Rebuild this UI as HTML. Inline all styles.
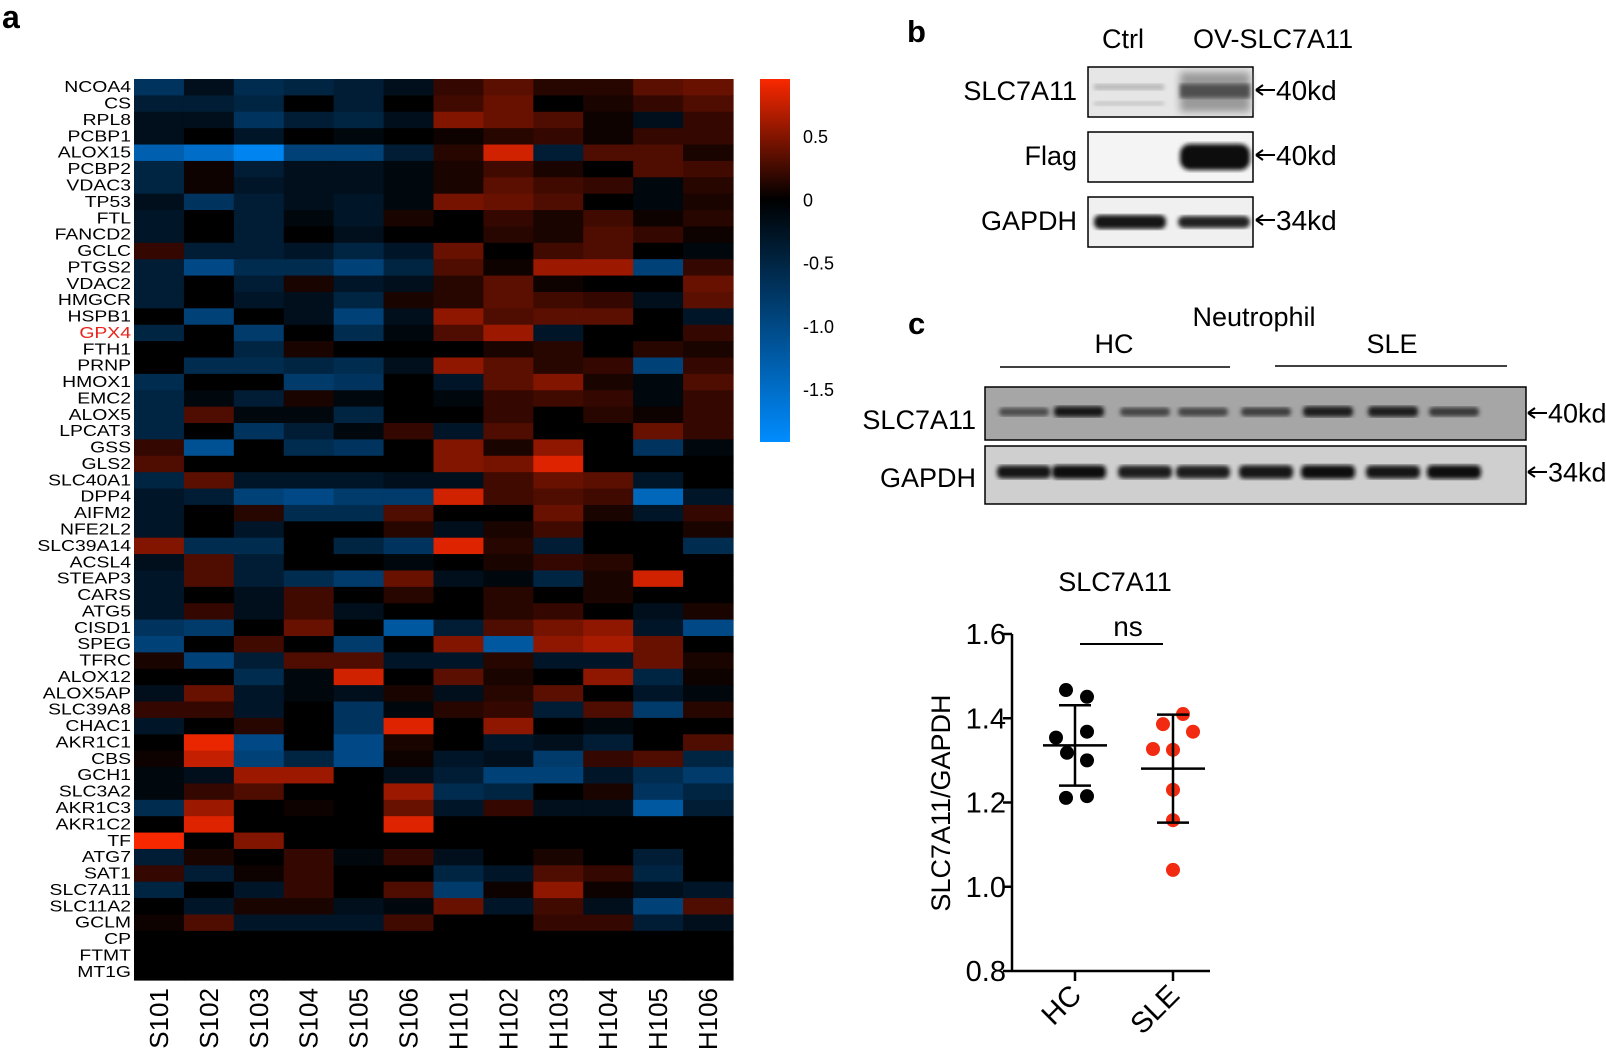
<!DOCTYPE html>
<html>
<head>
<meta charset="utf-8">
<style>
  html,body{margin:0;padding:0;background:#fff;}
  body{width:1606px;height:1056px;overflow:hidden;font-family:"Liberation Sans",Arial,sans-serif;}
  svg{position:absolute;left:0;top:0;}
  text{font-family:"Liberation Sans",Arial,sans-serif;}
</style>
</head>
<body>
<svg id="fig" width="1606" height="1056" viewBox="0 0 1606 1056" xmlns="http://www.w3.org/2000/svg">
  <defs>
    <linearGradient id="cbar" x1="0" y1="0" x2="0" y2="1">
      <stop offset="0" stop-color="rgb(250,40,0)"/>
      <stop offset="0.332" stop-color="rgb(0,0,0)"/>
      <stop offset="1" stop-color="rgb(0,140,255)"/>
    </linearGradient>
    <filter id="blur2"><feGaussianBlur stdDeviation="2.2"/></filter>
    <filter id="blur4"><feGaussianBlur stdDeviation="4"/></filter>
  </defs>

  <text x="2" y="28" font-size="32" font-weight="bold">a</text>
  <g id="heatmap"></g>
  <g id="genelabels"></g>
  <g id="samplelabels"></g>

  <rect x="760" y="79" width="30" height="363" fill="url(#cbar)"/>
  <g id="cbticks"></g>

  <!-- Panel b -->
  <text x="907" y="42" font-size="31" font-weight="bold">b</text>
  <text x="1123" y="48" font-size="27" text-anchor="middle">Ctrl</text>
  <text x="1193" y="48" font-size="27">OV-SLC7A11</text>
  <g>
    <rect x="1088" y="67" width="165" height="50" fill="#e6e6e6" stroke="#000" stroke-width="1.5"/>
    <rect x="1094" y="84" width="70" height="6" fill="#b8b8b8" filter="url(#blur2)"/>
    <rect x="1094" y="101" width="70" height="5" fill="#c8c8c8" filter="url(#blur2)"/>
    <rect x="1180" y="72" width="70" height="40" fill="#9a9a9a" filter="url(#blur4)"/>
    <rect x="1180" y="84" width="70" height="14" fill="#505050" filter="url(#blur2)"/>
  </g>
  <g>
    <rect x="1088" y="132" width="165" height="50" fill="#f4f4f4" stroke="#000" stroke-width="1.5"/>
    <rect x="1180" y="144" width="70" height="26" rx="10" fill="#111" filter="url(#blur2)"/>
  </g>
  <g>
    <rect x="1088" y="197" width="165" height="50" fill="#f0f0f0" stroke="#000" stroke-width="1.5"/>
    <rect x="1094" y="215" width="72" height="14" rx="6" fill="#151515" filter="url(#blur2)"/>
    <rect x="1178" y="216" width="72" height="12" rx="6" fill="#202020" filter="url(#blur2)"/>
  </g>
  <text x="1077" y="100" font-size="27" text-anchor="end">SLC7A11</text>
  <text x="1077" y="165" font-size="27" text-anchor="end">Flag</text>
  <text x="1077" y="230" font-size="27" text-anchor="end">GAPDH</text>
  <g id="arrows"></g>

  <!-- Panel c -->
  <text x="908" y="334" font-size="31" font-weight="bold">c</text>
  <text x="1254" y="326" font-size="27" text-anchor="middle">Neutrophil</text>
  <text x="1114" y="353" font-size="27" text-anchor="middle">HC</text>
  <text x="1392" y="353" font-size="27" text-anchor="middle">SLE</text>
  <line x1="1000" y1="367" x2="1230" y2="367" stroke="#000" stroke-width="1.5"/>
  <line x1="1275" y1="366" x2="1507" y2="366" stroke="#000" stroke-width="1.5"/>
  <g id="blotc">
    <rect x="985" y="387" width="541" height="53" fill="#a6a6a6" stroke="#000" stroke-width="1.5"/>
    <rect x="985" y="446" width="541" height="58" fill="#cfcfcf" stroke="#000" stroke-width="1.5"/>
  </g>
  <text x="976" y="429" font-size="27" text-anchor="end">SLC7A11</text>
  <text x="976" y="487" font-size="27" text-anchor="end">GAPDH</text>

  <!-- Scatter -->
  <g id="scatter"></g>
</svg>

<script>
// ---------- Heatmap data ----------
const genes = ["NCOA4","CS","RPL8","PCBP1","ALOX15","PCBP2","VDAC3","TP53","FTL","FANCD2","GCLC","PTGS2","VDAC2","HMGCR","HSPB1","GPX4","FTH1","PRNP","HMOX1","EMC2","ALOX5","LPCAT3","GSS","GLS2","SLC40A1","DPP4","AIFM2","NFE2L2","SLC39A14","ACSL4","STEAP3","CARS","ATG5","CISD1","SPEG","TFRC","ALOX12","ALOX5AP","SLC39A8","CHAC1","AKR1C1","CBS","GCH1","SLC3A2","AKR1C3","AKR1C2","TF","ATG7","SAT1","SLC7A11","SLC11A2","GCLM","CP","FTMT","MT1G"];
const samples = ["S101","S102","S103","S104","S105","S106","H101","H102","H103","H104","H105","H106"];
const colorbarTicks = [0.5, 0, -0.5, -1.0, -1.5];
const colorbarTickLabels = ["0.5","0","-0.5","-1.0","-1.5"];
const expression = [
[-0.7,-0.2,-0.6,-0.5,-0.4,-0.2,0.2,0.35,0.15,0.15,0.35,0.4],
[-0.4,-0.4,-0.5,0,-0.4,0,0.25,0.4,0,0.1,0.2,0.3],
[-0.2,-0.2,-0.7,-0.4,-0.5,-0.2,0.5,0.4,0.3,0.05,-0.2,0.2],
[-0.2,0,-0.3,0,-0.1,0,0.05,0.15,0.2,0.05,0.2,0.2],
[-1.3,-1.5,-1.8,-0.9,-0.9,-0.4,0.15,0.8,-0.4,0.3,0.3,0.1],
[-0.5,0.05,-0.4,-0.2,-0.2,-0.1,0.1,0.25,0.1,0,0.3,0.25],
[-0.5,0.05,-0.3,-0.2,-0.2,-0.1,0.1,0.35,0.25,0.2,-0.1,0.15],
[-0.2,-0.7,-0.4,-0.2,-0.3,-0.1,0.45,0.4,0.3,0,-0.1,0.1],
[-0.3,0,-0.4,-0.1,-0.3,0.1,0,0.2,0.1,0.25,0.05,0.15],
[-0.3,0,-0.4,0,-0.2,0,0,0.15,0.1,0.3,0.2,0.05],
[0.2,-0.4,-0.4,-0.3,-0.5,-0.3,0.4,0,0.25,0.3,0,-0.1],
[-0.4,-1.0,-0.6,-0.6,-0.9,-0.5,0.3,0.05,0.6,0.6,-0.9,0.2],
[-0.4,0,-0.4,0.1,-0.3,-0.2,0.15,0.35,0.05,0,0,0.4],
[-0.4,0,-0.3,-0.2,-0.5,0.1,0.15,0.35,0.25,0.2,-0.2,0.35],
[0,-0.9,0,-0.2,-0.9,-0.2,0.55,0.3,0.35,0.35,0,-0.3],
[-0.5,0,-0.8,0,-0.6,-0.1,0.3,0.6,-0.3,0,0,0.2],
[0,0,-0.5,0.1,0,0,0,0.1,0.15,0,0.15,0.1],
[0,-0.6,-0.6,-0.5,-0.6,-0.2,0.55,0.35,0.15,0.2,-0.9,0.2],
[-0.6,0,0,-0.8,-0.7,0,-0.3,0.35,0.5,0.1,-0.1,0.3],
[-0.5,-0.1,-0.4,0.1,-0.1,0,-0.1,0.2,0.25,0.2,-0.1,0.2],
[-0.5,0.3,-0.1,-0.1,-0.5,0,0,0.2,0,0.15,0.05,0.2],
[-0.5,0,-0.7,-0.4,-0.1,0.2,-0.3,0.3,0,0,0.4,0.2],
[0.2,-1.1,0,-0.6,-0.7,0,0.5,0.1,0.55,0,-0.7,-0.1],
[0.3,0,0,0,0,0,0.5,0.45,0.85,0,0,0],
[-0.5,0.35,-0.3,-0.3,-0.3,-0.2,-0.2,0.25,0.4,0.35,-0.3,0],
[-0.3,-0.4,-0.9,-1.0,-0.8,-0.8,0.8,0.25,0.3,0.25,-1.4,-0.3],
[-0.3,0,0.15,-0.6,-0.6,0.3,0,0,0.4,0.1,-0.3,0.2],
[-0.3,0,-0.3,0,0,0.15,-0.2,0.1,0.25,0,0,0.1],
[0.5,-0.6,-0.6,0,-0.5,-0.7,0.85,0.15,-0.4,0,0,-0.6],
[-0.2,0.3,-0.4,0,0,-0.1,0,0.1,0.2,0.15,0,0],
[-0.3,0.3,-0.4,-0.6,-0.8,0.4,-0.2,-0.1,-0.5,0.1,0.8,0],
[-0.3,0,-0.2,0.25,0,0.15,0,0.15,0,0.1,0,0],
[-0.3,0.2,-0.2,0.25,-0.2,0,0,0.15,0.2,0,-0.2,0.1],
[-0.7,-0.8,0,0.4,0,-1.2,-0.4,0.3,0.45,0.55,-0.3,-1.0],
[-0.9,0,0.25,0,-0.8,0,0.5,-1.2,0.55,0.65,0.4,0],
[0.1,-0.9,-0.4,0.3,0.3,-0.3,-0.3,0.15,-0.3,-0.3,0.4,0.1],
[0,0,-0.6,-0.1,0.8,0,0.35,0.1,0,0.55,-0.5,0.05],
[-0.2,0.4,-0.3,-0.1,-0.2,0.1,-0.2,0.15,0.35,0,-0.3,-0.1],
[0.2,0.2,-0.3,0,-0.7,-0.1,0.15,0.2,-0.4,0.3,-0.8,0.15],
[-0.3,0,0.15,0,-0.7,0.85,0,0.55,0,-0.1,0,0],
[0,0.9,-1.0,0,-1.0,0.1,0,-0.3,-0.2,-0.4,0,0.3],
[0.05,0.75,-0.9,-0.5,-1.0,0.05,-0.3,-0.2,-0.8,0.2,0.3,-0.5],
[-0.1,-0.2,0.6,0.6,0,-0.2,-0.4,-0.9,-0.9,-0.3,-0.6,-0.8],
[-0.1,0.2,0.3,0,0,0.6,-0.6,-0.5,0,0.1,-0.7,-0.5],
[-0.6,0.6,0,0.05,0,0.4,-0.3,0.2,-0.2,-0.2,-1.2,-0.4],
[0,0.85,0,0,0,0.85,0,0,0,0,0,0],
[0.95,0,0.5,0,0,0,0,0,0,0,0,0],
[-0.4,0.1,0,0.2,-0.1,0.2,-0.2,0,0.1,0,-0.4,0],
[0.2,-0.4,0.05,0.2,0,0,-0.5,-0.3,0.3,0.2,-0.5,0],
[-0.5,0,-0.3,0.2,0,0.3,-0.8,0.05,0.55,0.05,-0.2,-0.3],
[0,-0.3,0.1,0.1,-0.2,-0.1,0.4,-0.3,0.25,-0.2,-0.9,0.3],
[0.05,0.3,-0.3,-0.3,-0.3,0.25,0,0,0.2,0.2,-0.4,-0.2],
[0,0,0,0,0,0,0,0,0,0,0,0],
[0,0,0,0,0,0,0,0,0,0,0,0],
[0,0,0,0,0,0,0,0,0,0,0,0]
];

// ---------- Scatter data ----------
const scatterGroups = ["HC","SLE"];
const hcValues = [1.467,1.451,1.354,1.368,1.318,1.300,1.211,1.215];
const sleValues = [1.410,1.386,1.368,1.327,1.325,1.230,1.158,1.040];
const hcJitter = [-9,12,-19,12,-8,12,-9,12];
const sleJitter = [10,-10,20,-20,0,0,0,0];
const yTicks = [0.8,1.0,1.2,1.4,1.6];
const yTickLabels = ["0.8","1.0","1.2","1.4","1.6"];

// ---------- Blot band intensities (panel c) ----------
const slcBandStrength = [0.55,0.95,0.6,0.6,0.65,0.9,0.9,0.7];
const gapdhBandStrength = [0.85,0.95,0.8,0.8,0.9,0.95,0.85,0.95];

const NS = "http://www.w3.org/2000/svg";
function mk(tag, attrs, parent){
  const e = document.createElementNS(NS, tag);
  for (const k in attrs) e.setAttribute(k, attrs[k]);
  parent.appendChild(e);
  return e;
}

const hmX0 = 134, hmX1 = 733, hmY0 = 79, hmY1 = 980;
const colW = (hmX1 - hmX0) / samples.length;
const rowH = (hmY1 - hmY0) / genes.length;
const vMax = 0.96, vMin = -1.91;
function xCol(j){ return hmX0 + j * colW; }
function yRow(i){ return hmY0 + i * rowH; }
function color(v){
  if (v >= 0){ const t = Math.min(v / vMax, 1); return `rgb(${Math.round(250*t)},${Math.round(40*t)},0)`; }
  const t = Math.min(v / vMin, 1); return `rgb(0,${Math.round(140*t)},${Math.round(255*t)})`;
}

const hm = document.getElementById('heatmap');
expression.forEach((row, i) => {
  row.forEach((v, j) => {
    const r = mk('rect', {x: xCol(j).toFixed(2), y: yRow(i).toFixed(2), width: (colW+0.6).toFixed(2), height: (rowH+0.6).toFixed(2), fill: color(v)}, hm);
    
    
  });
});

const gl = document.getElementById('genelabels');
genes.forEach((g, i) => {
  const yy = (yRow(i) + rowH/2 + 5).toFixed(2);
  const t = mk('text', {x: 0, y: 0, 'font-size': 15.5, 'text-anchor': 'end', transform: `translate(131 ${yy}) scale(1.25 1)`, fill: g === 'GPX4' ? '#e8231b' : '#000'}, gl);
  t.textContent = g;
  
  
});

const sl = document.getElementById('samplelabels');
samples.forEach((s, j) => {
  const cx = xCol(j) + colW/2 + 9;
  const t = mk('text', {x: cx, y: 988, 'font-size': 26, 'text-anchor': 'end', transform: `rotate(-90 ${cx} 988)`}, sl);
  t.textContent = s;
  
  
});

const cb = document.getElementById('cbticks');
const cbY0 = 79, cbY1 = 442;
function yCb(v){ return cbY0 + (vMax - v) / (vMax - vMin) * (cbY1 - cbY0); }
colorbarTicks.forEach((v, k) => {
  const t = mk('text', {x: 803, y: (yCb(v) + 6).toFixed(1), 'font-size': 18}, cb);
  t.textContent = colorbarTickLabels[k];
  
  
});

const ar = document.getElementById('arrows');
const markerLabels = ["40kd","40kd","34kd","40kd","34kd"];
const markerPos = [[1255,90,28],[1255,155,28],[1255,220,28],[1527,413,27],[1527,472,27]];
markerLabels.forEach((lab, k) => {
  const [x, y, fs] = markerPos[k];
  const p = mk('path', {d: `M${x+1} ${y} L${x+20} ${y} M${x+1} ${y} L${x+8} ${y-5} M${x+1} ${y} L${x+8} ${y+5}`, stroke: '#000', 'stroke-width': 2, fill: 'none'}, ar);
  
  
  const t = mk('text', {x: x + 21, y: y + fs*0.36, 'font-size': fs}, ar);
  t.textContent = lab;
  
  
});

const bc = document.getElementById('blotc');
const laneX = [1024,1079,1145,1203,1266,1328,1393,1454];
slcBandStrength.forEach((s, k) => {
  const g = Math.round(150 - 135*s);
  const b = mk('rect', {x: laneX[k]-25, y: 410 - 4*s, width: 50, height: 5 + 6*s, rx: 4, fill: `rgb(${g},${g},${g})`, filter: 'url(#blur2)'}, bc);
  
  
});
gapdhBandStrength.forEach((s, k) => {
  const g = Math.round(90 - 80*s);
  const b = mk('rect', {x: laneX[k]-27, y: 468 - 3*s, width: 54, height: 8 + 6*s, rx: 5, fill: `rgb(${g},${g},${g})`, filter: 'url(#blur2)'}, bc);
  
  
});

const sc = document.getElementById('scatter');
const axX = 1012, yTop = 634, yBot = 971, yMinV = 0.8, yMaxV = 1.6;
const groupX = [1075, 1173];
function yS(v){ return yBot - (v - yMinV) / (yMaxV - yMinV) * (yBot - yTop); }
function mean(a){ return a.reduce((p,c)=>p+c,0)/a.length; }
function sd(a){ const m = mean(a); return Math.sqrt(a.reduce((p,c)=>p+(c-m)*(c-m),0)/(a.length-1)); }

let e;
e = mk('text', {x: 1115, y: 591, 'font-size': 27, 'text-anchor': 'middle'}, sc); e.textContent = 'SLC7A11';


e = mk('text', {x: 1128, y: 636, 'font-size': 28, 'text-anchor': 'middle'}, sc); e.textContent = 'ns';


e = mk('line', {x1: 1080, y1: 644, x2: 1163, y2: 644, stroke: '#000', 'stroke-width': 2}, sc);



e = mk('line', {x1: axX, y1: yTop, x2: axX, y2: yBot, stroke: '#000', 'stroke-width': 2.5}, sc);


e = mk('line', {x1: axX, y1: yBot, x2: 1210, y2: yBot, stroke: '#000', 'stroke-width': 2.5}, sc);



yTicks.forEach((v, k) => {
  const y = yS(v);
  const tk = mk('line', {x1: axX - 9, y1: y, x2: axX, y2: y, stroke: '#000', 'stroke-width': 2.5}, sc);
  
  
  const t = mk('text', {x: axX - 6, y: y + 10, 'font-size': 29, 'text-anchor': 'end'}, sc);
  t.textContent = yTickLabels[k];
  
  
});

e = mk('text', {x: 950, y: 803, 'font-size': 27, 'text-anchor': 'middle', transform: 'rotate(-90 950 803)'}, sc);
e.textContent = 'SLC7A11/GAPDH';



scatterGroups.forEach((g, k) => {
  const x = groupX[k];
  const tk = mk('line', {x1: x, y1: yBot, x2: x, y2: yBot + 10, stroke: '#000', 'stroke-width': 2.5}, sc);
  
  
  const t = mk('text', {x: x + 8, y: yBot + 26, 'font-size': 29, 'text-anchor': 'end', transform: `rotate(-45 ${x + 8} ${yBot + 26})`}, sc);
  t.textContent = g;
  
  
});

function drawGroup(vals, jit, x, col, name){
  const m = mean(vals), s = sd(vals);
  vals.forEach((v, i) => {
    const c = mk('circle', {cx: x + jit[i], cy: yS(v), r: 7, fill: col}, sc);
    
    
  });
  const ml = mk('line', {x1: x - 32, y1: yS(m), x2: x + 32, y2: yS(m), stroke: '#000', 'stroke-width': 2.5}, sc);
  
  
  const vl = mk('line', {x1: x, y1: yS(m + s), x2: x, y2: yS(m - s), stroke: '#000', 'stroke-width': 2.5}, sc);
  
  
  [m + s, m - s].forEach(v => {
    const cap = mk('line', {x1: x - 16, y1: yS(v), x2: x + 16, y2: yS(v), stroke: '#000', 'stroke-width': 2.5}, sc);
    
    
  });
}
drawGroup(hcValues, hcJitter, groupX[0], '#000', 'hc');
drawGroup(sleValues, sleJitter, groupX[1], '#f22a12', 'sle');
</script>
</body>
</html>
